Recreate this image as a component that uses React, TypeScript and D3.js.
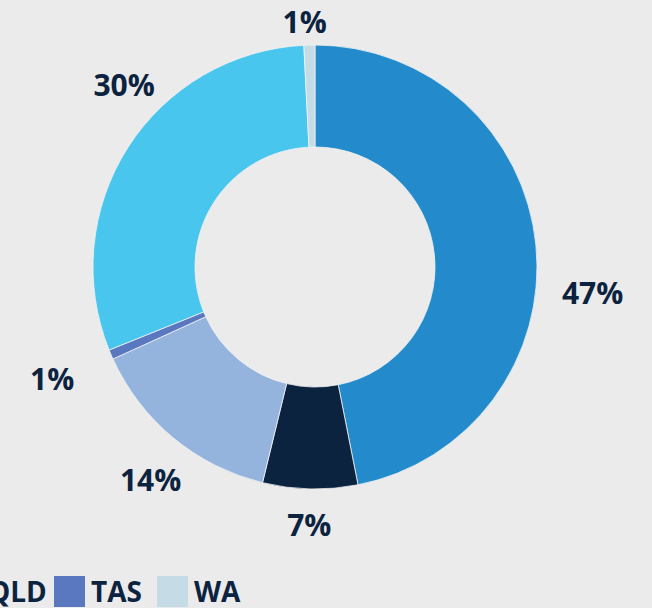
import React from "react";
import * as d3 from "d3";

const categories = ["NSW", "NT", "QLD", "TAS", "VIC", "WA"];
const values = [46.9, 6.9, 14.4, 0.7, 30.3, 0.8];
const labels = ["47%", "7%", "14%", "1%", "30%", "1%"];
const legendRow = ["QLD", "TAS", "WA"];

const colors: Record<string, string> = {
  NSW: "#238BCB",
  NT: "#0C2340",
  QLD: "#94B4DE",
  TAS: "#5A78C0",
  VIC: "#48C6ED",
  WA: "#C5DCE7",
};

// layout
const W = 652, H = 608;
const cx = 315, cy = 267;
const outerR = 222, innerR = 120;
const labelR = 248;
const labelFont = 30;
const textColor = "#0C2340";
const fontFamily = "'Open Sans', 'DejaVu Sans', sans-serif";
// label adjustments (degrees, extra radius) to mimic the reference placement
const labelAdjust: Record<string, [number, number]> = {
  NSW: [11, 0],
  VIC: [11, 0],
  QLD: [-2, 8],
  TAS: [0, 14],
  WA: [-1, -14],
};

function measure(text: string, size: number) {
  const c = document.createElement("canvas").getContext("2d");
  if (!c) return text.length * size * 0.6;
  c.font = `700 ${size}px 'Open Sans'`;
  return c.measureText(text).width;
}

export default function App() {
  const data = categories.map((c, i) => ({ cat: c, value: values[i], label: labels[i] }));
  const pie = d3.pie<any>().value((d) => d.value).sort(null);
  const arcs = pie(data);
  const arc = d3.arc<any>().innerRadius(innerR).outerRadius(outerR);

  const capH = labelFont * 0.714;

  // legend: fixed-width columns, anchored so the TAS swatch sits at x=54
  const sw = 31, gapST = 6, colW = 103;
  const legendFont = 28;
  const anchorIdx = 1, anchorX = 54;
  const legendY = 576;

  return (
    <svg
      width={W}
      height={H}
      style={{ position: "absolute", left: 0, top: 0, display: "block" }}
      fontFamily={fontFamily}
    >
      <rect x={0} y={0} width={W} height={H} fill="#EBEBEB" />
      <g transform={`translate(${cx},${cy})`}>
        {arcs.map((a) => (
          <path
            key={a.data.cat}
            d={arc(a) || ""}
            fill={colors[a.data.cat]}
            stroke="#F2F2F2"
            strokeWidth={0.8}
          />
        ))}
        {arcs.map((a) => {
          const adj = labelAdjust[a.data.cat] || [0, 0];
          const mid = (a.startAngle + a.endAngle) / 2 + (adj[0] * Math.PI) / 180;
          const dx = Math.sin(mid), dy = -Math.cos(mid);
          const w = measure(a.data.label, labelFont);
          const ext = Math.min(
            Math.abs(dx) > 1e-6 ? w / 2 / Math.abs(dx) : Infinity,
            Math.abs(dy) > 1e-6 ? capH / 2 / Math.abs(dy) : Infinity
          );
          const r = labelR + adj[1] + ext;
          const x = dx * r, y = dy * r;
          return (
            <text
              key={"l" + a.data.cat}
              x={x}
              y={y + capH / 2}
              textAnchor="middle"
              fontSize={labelFont}
              fontWeight={700}
              fill={textColor}
            >
              {a.data.label}
            </text>
          );
        })}
      </g>
      <g>
        {legendRow.map((t, i) => {
          const x = anchorX + (i - anchorIdx) * colW;
          return (
            <g key={t}>
              <rect x={x} y={legendY} width={sw} height={sw} fill={colors[t]} />
              <text
                x={x + sw + gapST}
                y={legendY + sw / 2 + legendFont * 0.36}
                fontSize={legendFont}
                fontWeight={700}
                fill={textColor}
              >
                {t}
              </text>
            </g>
          );
        })}
      </g>
    </svg>
  );
}
